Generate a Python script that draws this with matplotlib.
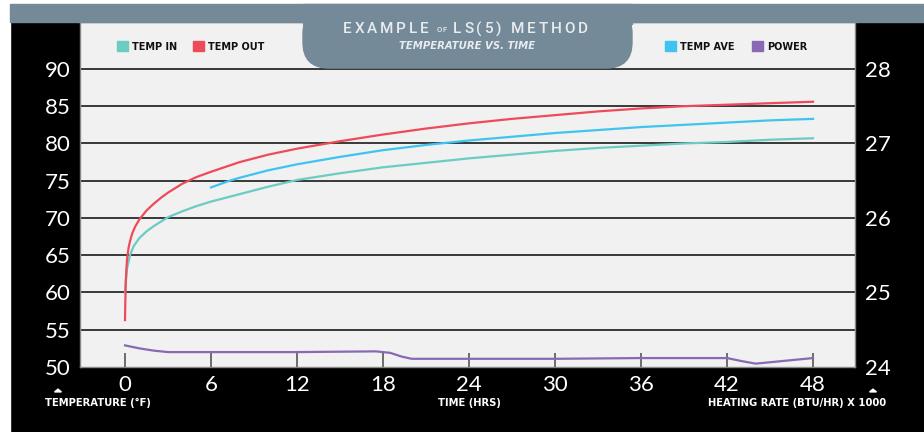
import matplotlib
matplotlib.use("Agg")
import matplotlib.pyplot as plt
from matplotlib.patches import Rectangle, FancyBboxPatch, RegularPolygon

# colours
BACK_COLOR = "#000000"
PLOT_COLOR = "#f0f1f0"
BAND_COLOR = "#748a99"
GRID_COLOR = "#2a2a2a"
TICK_COLOR = "#555555"
HEAD_TEXT = "#e8ecee"
IN_COLOR = "#6ccbc3"
OUT_COLOR = "#ef4a5a"
AVE_COLOR = "#3fc4ef"
POWER_COLOR = "#8a68b4"

# data
time_in = [0, 0.05, 0.15, 0.35, 0.6, 1.0, 1.5, 2, 2.5, 3, 4, 5, 6, 8, 10,
           12, 15, 18, 21, 24, 27, 30, 33, 36, 39, 42, 45, 48]
temp_in = [60.0, 61.5, 63.3, 65.0, 66.2, 67.3, 68.2, 68.9, 69.5, 70.1, 70.9,
           71.6, 72.2, 73.2, 74.2, 75.1, 76.0, 76.8, 77.4, 78.0, 78.5, 79.0,
           79.4, 79.7, 80.0, 80.2, 80.5, 80.7]

time_out = [0, 0.02, 0.05, 0.1, 0.15, 0.25, 0.35, 0.5, 0.7, 1.0, 1.5, 2, 2.5,
            3, 4, 5, 6, 8, 10, 12, 15, 18, 21, 24, 27, 30, 33, 36, 39, 42, 45,
            48]
temp_out = [56.3, 58.5, 61.0, 63.3, 64.6, 66.0, 66.9, 67.9, 68.8, 69.8, 71.0,
            71.9, 72.7, 73.4, 74.6, 75.5, 76.2, 77.5, 78.5, 79.3, 80.3, 81.2,
            82.0, 82.7, 83.3, 83.8, 84.3, 84.7, 85.0, 85.2, 85.4, 85.6]

time_ave = [6, 7.3, 8, 10, 12, 15, 18, 21, 24, 27, 30, 33, 36, 39, 42, 45, 48]
temp_ave = [74.1, 75.0, 75.4, 76.4, 77.2, 78.2, 79.1, 79.8, 80.4, 80.9, 81.4,
            81.8, 82.2, 82.5, 82.8, 83.1, 83.3]

time_power = [0, 1, 2, 3, 6, 12, 17.5, 18.5, 19.3, 20, 24, 30, 36, 42, 43,
              44, 48]
power = [24.29, 24.25, 24.22, 24.20, 24.20, 24.20, 24.21, 24.19, 24.14, 24.11,
         24.11, 24.11, 24.12, 24.12, 24.08, 24.045, 24.12]

x_ticks = [0, 6, 12, 18, 24, 30, 36, 42, 48]
temp_ticks = [50, 55, 60, 65, 70, 75, 80, 85, 90]
power_ticks = [24, 25, 26, 27, 28]

W, H = 924, 432
NUM_FONT = "Lato"
BOLD_FONT = "DejaVu Sans"


def px(x, y, w, h):
    # pixel box (top-left origin) to figure fraction
    return (x / W, (H - y - h) / H, w / W, h / H)


fig = plt.figure(figsize=(W / 100, H / 100), dpi=100)
fig.patch.set_facecolor(BACK_COLOR)
renderer = fig.canvas.get_renderer()

# white margin and grey top band
for box, col in [((0, 0, 10, H), "white"), ((0, 0, W, 4), "white"),
                 ((10, 4, W - 10, 18), BAND_COLOR)]:
    l, b, w, h = px(*box)
    fig.patches.append(Rectangle((l, b), w, h, transform=fig.transFigure,
                                 color=col, zorder=1))

ax = fig.add_axes(px(80, 22, 775, 345))
ax.set_facecolor(PLOT_COLOR)
ax.set_xlim(-3.14, 50.93)
ax.set_ylim(50, 96.3)

for v in temp_ticks[1:]:
    ax.axhline(v, color=GRID_COLOR, lw=1.3, zorder=1)

ax.plot(time_in, temp_in, color=IN_COLOR, lw=1.6, zorder=3)
ax.plot(time_out, temp_out, color=OUT_COLOR, lw=1.6, zorder=3)
ax.plot(time_ave, temp_ave, color=AVE_COLOR, lw=1.6, zorder=3)

ax.set_xticks(x_ticks)
ax.set_yticks(temp_ticks)
ax.tick_params(axis="x", direction="in", length=10, width=1.2,
               color=TICK_COLOR, labelcolor="white", labelsize=16, pad=6)
ax.tick_params(axis="y", length=0, labelcolor="white", labelsize=16, pad=7)
for label in ax.get_xticklabels() + ax.get_yticklabels():
    label.set_fontfamily(NUM_FONT)
for s in ax.spines.values():
    s.set_color("#888888")
    s.set_linewidth(1)

ax2 = ax.twinx()
ax2.set_ylim(24, 24 + 46.3 / 10)
ax2.plot(time_power, power, color=POWER_COLOR, lw=1.6, zorder=3)
ax2.set_yticks(power_ticks)
ax2.tick_params(axis="y", length=0, labelcolor="white", labelsize=16, pad=7)
for label in ax2.get_yticklabels():
    label.set_fontfamily(NUM_FONT)
for s in ax2.spines.values():
    s.set_visible(False)

# header tab
l, b, w, h = px(303, 8, 329, 60)
fig.patches.append(FancyBboxPatch((l, b), w, h, transform=fig.transFigure,
                                  boxstyle="round,pad=0,rounding_size=0.028",
                                  mutation_aspect=W / H, color=BAND_COLOR,
                                  zorder=1))
l, b, w, h = px(303, 4, 329, 20)
fig.patches.append(Rectangle((l, b), w, h, transform=fig.transFigure,
                             color=BAND_COLOR, zorder=1))


def ftext(x, y, s, **kw):
    return fig.text(x / W, 1 - y / H, s, va="center", zorder=5, **kw)


def spaced(x, y, s, gap, **kw):
    # draw text one letter at a time with extra tracking, return end x
    for ch in s:
        t = ftext(x, y, ch, ha="left", **kw)
        x += t.get_window_extent(renderer).width + gap
    return x - gap


head = dict(color=HEAD_TEXT, family="Roboto", fontweight="medium")
end = spaced(343, 29, "EXAMPLE", 2.8, fontsize=11, **head)
end = spaced(end + 8, 30, "OF", 0.8, fontsize=5.5, **head)
spaced(end + 7, 29, "LS(5) METHOD", 2.8, fontsize=11, **head)
ftext(467, 46, "TEMPERATURE VS. TIME", color=HEAD_TEXT, fontsize=7.3,
      family=BOLD_FONT, fontweight="bold", style="italic", ha="center")

# legend
for x0, name, col in [(117, "TEMP IN", IN_COLOR), (193, "TEMP OUT", OUT_COLOR),
                      (665, "TEMP AVE", AVE_COLOR), (752, "POWER", POWER_COLOR)]:
    l, b, w, h = px(x0, 41, 11, 10)
    fig.patches.append(Rectangle((l, b), w, h, transform=fig.transFigure,
                                 color=col, zorder=5))
    ftext(x0 + 15, 46.5, name, color="#111111", fontsize=7,
          family=BOLD_FONT, fontweight="bold", ha="left")

# bottom axis captions
for x0 in (58, 873):
    fig.patches.append(RegularPolygon((x0 / W, 1 - 391 / H), 3,
                                      radius=4 / W, orientation=0,
                                      transform=fig.transFigure,
                                      color="white", zorder=5))
cap = dict(color="white", fontsize=7.2, family=BOLD_FONT, fontweight="bold")
ftext(45, 403, "TEMPERATURE (°F)", ha="left", **cap)
ftext(469, 403, "TIME (HRS)", ha="center", **cap)
ftext(886, 403, "HEATING RATE (BTU/HR) X 1000", ha="right", **cap)

fig.savefig("out.png", dpi=100, facecolor=fig.get_facecolor())
